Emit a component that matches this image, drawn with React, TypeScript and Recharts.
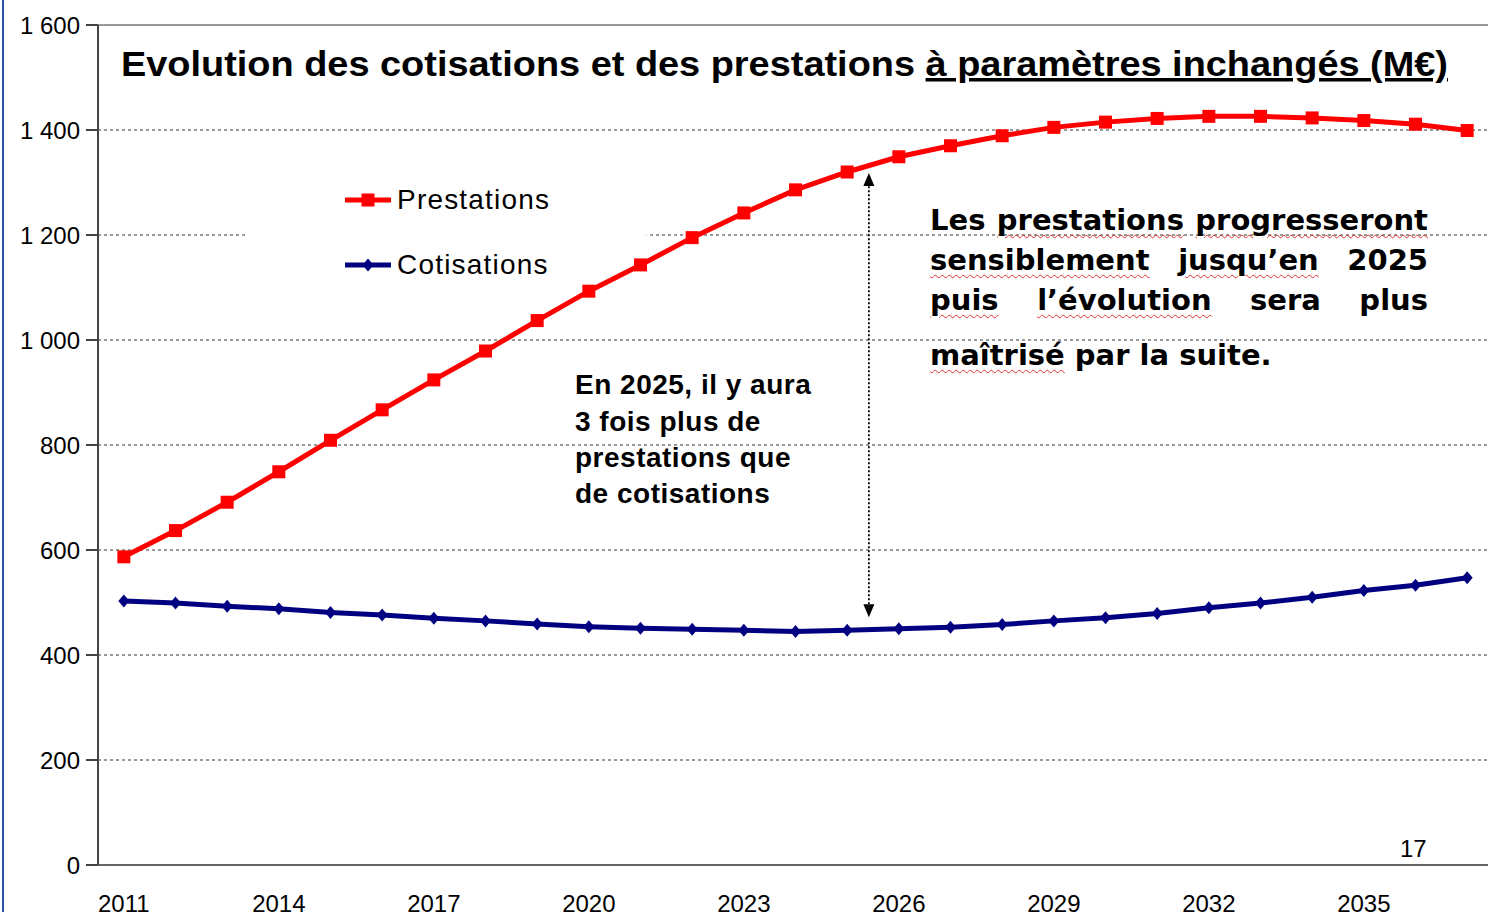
import React from 'react';
import {
  LineChart,
  Line,
  XAxis,
  YAxis,
  CartesianGrid,
  ReferenceLine,
  ReferenceDot,
  ReferenceArea,
  Legend,
} from 'recharts';

const years = [
  2011, 2012, 2013, 2014, 2015, 2016, 2017, 2018, 2019, 2020, 2021, 2022, 2023, 2024,
  2025, 2026, 2027, 2028, 2029, 2030, 2031, 2032, 2033, 2034, 2035, 2036, 2037,
];
const prestations = [
  587, 637, 691, 749, 809, 867, 924, 979, 1037, 1093, 1143, 1195, 1242, 1286,
  1320, 1349, 1370, 1389, 1405, 1415, 1422, 1426, 1426, 1423, 1418, 1411, 1399,
];
const cotisations = [
  503, 499, 493, 488, 481, 476, 470, 465, 459, 454, 451, 449, 447, 445,
  447, 450, 453, 458, 465, 471, 479, 490, 499, 510, 523, 533, 547,
];
const yTicks = [0, 200, 400, 600, 800, 1000, 1200, 1400, 1600];
const xLabelTicks = [2011, 2014, 2017, 2020, 2023, 2026, 2029, 2032, 2035];
const xBoundaryTicks = [...years.map((y) => y - 0.5), 2037.5];
const xDomain = [2010.5, 2037.5];
const seriesOrder = ['Prestations', 'Cotisations'];
const arrowYear = 2025.42;
const arrowTop = 1318;
const arrowBottom = 472;
// white box behind the legend (hides the grid, not the series)
const legendBox = { x1: 2013.36, x2: 2021.12, y1: 1086, y2: 1333 };

const data = years.map((year, i) => ({
  year,
  prestations: prestations[i],
  cotisations: cotisations[i],
}));

const FONT = "'Liberation Sans', Arial, sans-serif";
const VFONT = "'DejaVu Sans', Verdana, sans-serif";

const fmt = (v: number) => String(v).replace(/\B(?=(\d{3})+(?!\d))/g, ' ');

const SquareDot = (p: any) => (
  <rect key={`s${p.index}`} x={p.cx - 6.5} y={p.cy - 6.5} width={13} height={13} fill="#FF0000" />
);
const DiamondDot = (p: any) => (
  <polygon
    key={`d${p.index}`}
    points={`${p.cx},${p.cy - 6.5} ${p.cx + 5.5},${p.cy} ${p.cx},${p.cy + 6.5} ${p.cx - 5.5},${p.cy}`}
    fill="#000080"
  />
);

const UpHead = (p: any) => (
  <polygon points={`${p.cx},${p.cy} ${p.cx - 5.5},${p.cy + 13} ${p.cx + 5.5},${p.cy + 13}`} fill="#000" />
);
const DownHead = (p: any) => (
  <polygon points={`${p.cx},${p.cy} ${p.cx - 5.5},${p.cy - 13} ${p.cx + 5.5},${p.cy - 13}`} fill="#000" />
);

const renderLegend = (props: any) => {
  const payload = [...(props.payload || [])].sort(
    (a: any, b: any) => seriesOrder.indexOf(a.value) - seriesOrder.indexOf(b.value)
  );
  return (
    <div style={{ position: 'relative', width: 401, height: 130 }}>
      {payload.map((e: any, i: number) => (
        <div
          key={i}
          style={{
            position: 'absolute',
            left: 98,
            top: i === 0 ? 15 : 80,
            height: 40,
            display: 'flex',
            alignItems: 'center',
          }}
        >
          <svg width={48} height={40}>
            <line x1={0} y1={20} x2={46} y2={20} stroke={e.color} strokeWidth={5} />
            {e.value === 'Prestations' ? (
              <rect x={16.5} y={13.5} width={13} height={13} fill={e.color} />
            ) : (
              <polygon points="23,13.5 28.5,20 23,26.5 17.5,20" fill={e.color} />
            )}
          </svg>
          <span
            style={{
              fontFamily: FONT,
              fontSize: 28,
              letterSpacing: 1.2,
              color: '#000',
              marginLeft: 4,
              whiteSpace: 'nowrap',
            }}
          >
            {e.value}
          </span>
        </div>
      ))}
    </div>
  );
};

const wavy: React.CSSProperties = {
  textDecoration: 'underline wavy #e03030',
  textDecorationThickness: '1px',
  textUnderlineOffset: '4px',
};

const lineStyle: React.CSSProperties = {
  position: 'absolute',
  left: 930,
  width: 498,
  fontFamily: VFONT,
  fontWeight: 'bold',
  fontSize: 29,
  lineHeight: '40px',
  color: '#000',
  textAlign: 'justify',
  textAlignLast: 'justify' as any,
  whiteSpace: 'nowrap',
};

export default function App() {
  return (
    <div style={{ position: 'absolute', left: 0, top: 0, width: 1488, height: 912, background: '#fff', overflow: 'hidden' }}>
      <div style={{ position: 'absolute', left: 2, top: 0, width: 2, height: 912, background: '#2a56a8' }} />
      <LineChart
        width={1488}
        height={912}
        data={data}
        margin={{ top: 25, right: -5, bottom: 0, left: 0 }}
      >
        <CartesianGrid vertical={false} stroke="#333" strokeDasharray="3 3" />
        <XAxis
          dataKey="year"
          type="number"
          domain={xDomain}
          ticks={xBoundaryTicks}
          interval={0}
          tick={false}
          tickSize={11}
          height={12}
          stroke="#666"
          strokeWidth={2}
        />
        <XAxis
          xAxisId="lbl"
          dataKey="year"
          type="number"
          domain={xDomain}
          ticks={xLabelTicks}
          interval={0}
          axisLine={false}
          tickLine={false}
          tickSize={0}
          tickMargin={18}
          height={35}
          tick={{ fontFamily: FONT, fontSize: 24, fill: '#000' }}
        />
        <YAxis
          domain={[0, 1600]}
          ticks={yTicks}
          interval={0}
          width={98}
          tickSize={12}
          tickMargin={6}
          tickFormatter={fmt}
          stroke="#444"
          strokeWidth={2}
          tick={{ fontFamily: FONT, fontSize: 24, fill: '#000' }}
        />
        <ReferenceLine y={1600} stroke="#999" strokeWidth={2} />
        <ReferenceArea
          x1={legendBox.x1}
          x2={legendBox.x2}
          y1={legendBox.y1}
          y2={legendBox.y2}
          fill="#fff"
          fillOpacity={1}
          stroke="none"
        />
        <Legend
          layout="vertical"
          align="center"
          verticalAlign="middle"
          content={renderLegend}
          wrapperStyle={{ left: 247, top: 165, width: 401, height: 130 }}
        />
        <Line
          name="Prestations"
          dataKey="prestations"
          stroke="#FF0000"
          strokeWidth={5}
          dot={SquareDot}
          activeDot={false}
          isAnimationActive={false}
        />
        <Line
          name="Cotisations"
          dataKey="cotisations"
          stroke="#000080"
          strokeWidth={5}
          dot={DiamondDot}
          activeDot={false}
          isAnimationActive={false}
        />
        <ReferenceLine
          segment={[
            { x: arrowYear, y: arrowTop - 25 },
            { x: arrowYear, y: arrowBottom + 25 },
          ]}
          stroke="#000"
          strokeWidth={1.8}
          strokeDasharray="2 2"
        />
        <ReferenceDot x={arrowYear} y={arrowTop} shape={UpHead} />
        <ReferenceDot x={arrowYear} y={arrowBottom} shape={DownHead} />
      </LineChart>

      <svg
        width={1488}
        height={912}
        style={{ position: 'absolute', left: 0, top: 0, pointerEvents: 'none' }}
      >
        <text
          x={121}
          y={76}
          fontFamily={FONT}
          fontWeight="bold"
          fontSize={35}
          fill="#000"
          textLength={1327}
          lengthAdjust="spacingAndGlyphs"
        >
          Evolution des cotisations et des prestations{' '}
          <tspan style={{ textDecoration: 'underline' }}>à paramètres inchangés (M€)</tspan>
        </text>
        <g fontFamily={FONT} fontWeight="bold" fontSize={28} fill="#000" letterSpacing={0.5}>
          <text x={575} y={394}>En 2025, il y aura</text>
          <text x={575} y={431}>3 fois plus de</text>
          <text x={575} y={467}>prestations que</text>
          <text x={575} y={503}>de cotisations</text>
        </g>
        <text x={1400} y={857} fontFamily={FONT} fontSize={24} fill="#000">
          17
        </text>
      </svg>

      <div style={{ ...lineStyle, top: 200 }}>
        Les <span style={wavy}>prestations</span> <span style={wavy}>progresseront</span>
      </div>
      <div style={{ ...lineStyle, top: 240 }}>
        <span style={wavy}>sensiblement</span> <span style={wavy}>jusqu’en</span> 2025
      </div>
      <div style={{ ...lineStyle, top: 280 }}>
        <span style={wavy}>puis</span> <span style={wavy}>l’évolution</span> sera plus
      </div>
      <div style={{ ...lineStyle, top: 335, textAlign: 'left', textAlignLast: 'left' as any }}>
        <span style={wavy}>maîtrisé</span> par la suite.
      </div>
    </div>
  );
}
